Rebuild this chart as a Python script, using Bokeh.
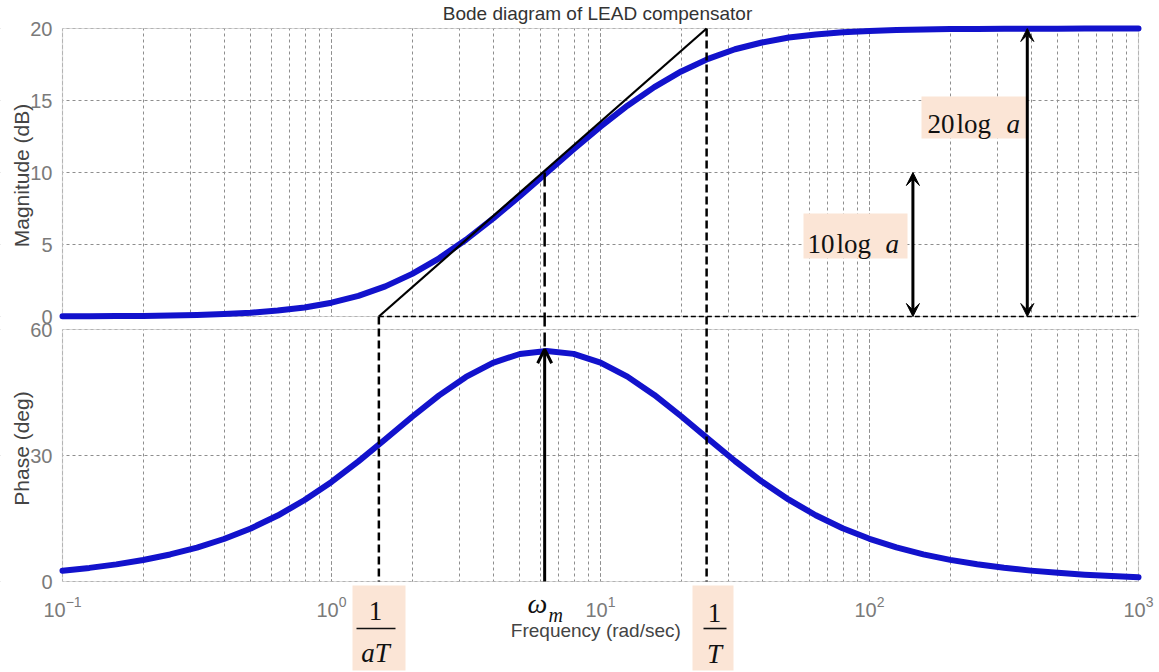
from bokeh.plotting import figure
from bokeh.models import (Range1d, FixedTicker, BoxAnnotation, Label, Arrow,
                          VeeHead, OpenHead)
from bokeh.embed import file_html
from bokeh.resources import INLINE

# ---------------- data ----------------
freq = [0.1, 0.1259, 0.1585, 0.1995, 0.2512, 0.3162, 0.3981, 0.5012, 0.631, 0.7943,
        1.0, 1.259, 1.585, 1.995, 2.512, 3.162, 3.981, 5.012, 6.31, 7.943,
        10.0, 12.59, 15.85, 19.95, 25.12, 31.62, 39.81, 50.12, 63.1, 79.43,
        100.0, 125.9, 158.5, 199.5, 251.2, 316.2, 398.1, 501.2, 631.0, 794.3, 1000.0]
mag_db = [0.01, 0.02, 0.03, 0.04, 0.07, 0.11, 0.17, 0.26, 0.41, 0.63,
          0.96, 1.43, 2.09, 2.96, 4.04, 5.33, 6.79, 8.36, 9.98, 11.61,
          13.18, 14.64, 15.93, 17.02, 17.89, 18.56, 19.03, 19.37, 19.59, 19.74,
          19.83, 19.89, 19.93, 19.96, 19.97, 19.98, 19.99, 19.99, 20.0, 20.0, 20.0]
phase_deg = [2.58, 3.24, 4.08, 5.13, 6.44, 8.08, 10.12, 12.63, 15.70, 19.40,
             23.70, 28.59, 33.87, 39.23, 44.31, 48.70, 52.07, 54.17, 54.90, 54.20,
             52.12, 48.78, 44.41, 39.35, 33.98, 28.69, 23.79, 19.48, 15.77, 12.69,
             10.16, 8.12, 6.47, 5.15, 4.09, 3.26, 2.59, 2.06, 1.63, 1.30, 1.03]

corner_low = 1.5      # 1/aT
corner_high = 24.8    # 1/T
omega_m = 6.2
mag_at_wm = 10.0
phase_max = 55.3
gain_full = 20.0      # 20 log a
gain_half = 10.0      # 10 log a
arrow_full_x = 386.0
arrow_half_x = 145.0

mag_ticks = [0, 5, 10, 15, 20]
phase_ticks = [0, 30, 60]
x_lo, x_hi = 0.1, 1000.0
mag_lo_v, mag_hi_v = 0.0, 20.0
ph_lo_v, ph_hi_v = 0.0, 60.0

# ---------------- layout constants (pixels) ----------------
W, H = 1159, 672
FL, FR, FT, FB = 62, 1138, 28, 581      # panel area edges
MAG0_PX = 316                           # 0 dB row
PH60_PX = 329                           # 60 deg row
DEC = (FR - FL) / 4.0                   # px per decade
px_per_db = (MAG0_PX - FT) / (mag_hi_v - mag_lo_v)
px_per_deg = (FB - PH60_PX) / (ph_hi_v - ph_lo_v)

x_start = 10 ** (-1 - FL / DEC)
x_end = 10 ** (3 + (W - FR) / DEC)
y_top = mag_hi_v + FT / px_per_db
y_bot = mag_hi_v - (H - FT) / px_per_db
ph_top = ph_lo_v + FB / px_per_deg
ph_bot = ph_lo_v - (H - FB) / px_per_deg


def ph_to_mag(p):
    px = FB - (p - ph_lo_v) * px_per_deg
    return mag_hi_v - (px - FT) / px_per_db


def mag_to_ph(m):
    px = FT + (mag_hi_v - m) * px_per_db
    return ph_lo_v + (FB - px) / px_per_deg


def sx(px):
    return px


def sy(py):
    return H - py


BLUE = "#1212cc"
GRID = "#8e8e8e"
BORDER = "#858585"
PEACH = "#fbe5d6"
TICK_C = "#7a7a7a"
SERIF = "Liberation Serif"
INK = "#111111"

p = figure(width=W, height=H, x_axis_type="log", x_range=Range1d(x_start, x_end),
           y_range=Range1d(y_bot, y_top), output_backend="svg",
           toolbar_location=None, min_border=0, min_border_left=0, min_border_right=0,
           min_border_top=0, min_border_bottom=0)
p.extra_y_ranges = {"phase": Range1d(ph_bot, ph_top)}
p.outline_line_color = None
p.background_fill_color = "white"
p.border_fill_color = "white"

# left axis: magnitude ticks + phase ticks mapped onto the shared frame
ph_tick_pos = [ph_to_mag(v) for v in phase_ticks]
all_ticks = [float(v) for v in mag_ticks] + ph_tick_pos
overrides = {float(v): str(v) for v in mag_ticks}
for v, pos in zip(phase_ticks, ph_tick_pos):
    overrides[pos] = str(v)
yax = p.yaxis[0]
yax.fixed_location = x_lo
yax.ticker = FixedTicker(ticks=all_ticks, minor_ticks=[])
yax.major_label_overrides = overrides
yax.axis_line_color = None
yax.major_tick_line_color = None
yax.minor_tick_line_color = None
yax.major_label_text_font = "Liberation Sans"
yax.major_label_text_font_size = "20px"
yax.major_label_text_color = TICK_C
yax.major_label_standoff = 4
p.ygrid[0].ticker = FixedTicker(ticks=all_ticks, minor_ticks=[])

xax = p.xaxis[0]
xax.fixed_location = ph_to_mag(ph_lo_v)
xax.bounds = (x_lo, x_hi)
xax.axis_line_color = None
xax.major_tick_line_color = None
xax.minor_tick_line_color = None
xax.major_label_text_font = "Liberation Sans"
xax.major_label_text_font_size = "20px"
xax.major_label_text_color = TICK_C
xax.major_label_standoff = 8

for g in (p.xgrid[0], p.ygrid[0]):
    g.grid_line_color = GRID
    g.grid_line_dash = "3 3"
    g.grid_line_width = 1
p.xgrid[0].minor_grid_line_color = GRID
p.xgrid[0].minor_grid_line_dash = "3 3"
p.xgrid[0].minor_grid_line_width = 1

# white masks outside the two panels (hide grid lines there)
masks = [dict(bottom=mag_hi_v), dict(top=ph_to_mag(ph_lo_v)),
         dict(bottom=ph_to_mag(ph_hi_v), top=mag_lo_v),
         dict(right=x_lo), dict(left=x_hi)]
for m in masks:
    p.add_layout(BoxAnnotation(fill_color="white", fill_alpha=1.0, line_color=None,
                               level="underlay", **m))
# panel borders
p.add_layout(BoxAnnotation(left=x_lo, right=x_hi, bottom=mag_lo_v, top=mag_hi_v,
                           fill_color=None, line_color=BORDER, line_width=1.2,
                           level="underlay"))
p.add_layout(BoxAnnotation(left=x_lo, right=x_hi, bottom=ph_to_mag(ph_lo_v),
                           top=ph_to_mag(ph_hi_v), fill_color=None, line_color=BORDER,
                           line_width=1.2, level="underlay"))


def sbox(l, r, t, b, color):
    p.add_layout(BoxAnnotation(left=sx(l), right=sx(r), top=sy(t), bottom=sy(b),
                               left_units="screen", right_units="screen",
                               top_units="screen", bottom_units="screen",
                               fill_color=color, fill_alpha=1.0, line_color=None))


def lab(text, px, py, size, font="Liberation Sans", style="normal", color=INK,
        align="center", baseline="middle", angle=0.0):
    p.add_layout(Label(x=sx(px), y=sy(py), x_units="screen", y_units="screen", text=text,
                       text_font=font, text_font_size=f"{size}px", text_font_style=style,
                       text_color=color, text_align=align, text_baseline=baseline,
                       angle=angle))


# label boxes inside the magnitude panel
sbox(921, 1027, 96, 138, PEACH)
sbox(803, 907, 213, 258, PEACH)

# curves
p.line(freq, mag_db, line_width=6, color=BLUE, line_join="round", line_cap="round")
p.line(freq, phase_deg, line_width=6, color=BLUE, line_join="round", line_cap="round",
       y_range_name="phase")

# asymptote and reference lines
p.line([corner_low, corner_high], [mag_lo_v, gain_full], color="black", line_width=2.2)
p.line([corner_low, x_hi], [mag_lo_v, mag_lo_v], color="black", line_width=1.5,
       line_dash="5 3")
p.segment(x0=[corner_low], y0=[mag_to_ph(mag_lo_v)], x1=[corner_low], y1=[ph_lo_v],
          y_range_name="phase", color="black", line_width=2.5, line_dash="8 4")
p.segment(x0=[corner_high], y0=[mag_to_ph(gain_full)], x1=[corner_high], y1=[ph_lo_v],
          y_range_name="phase", color="black", line_width=2.5, line_dash="8 4")
p.segment(x0=[omega_m], y0=[mag_to_ph(mag_at_wm)], x1=[omega_m], y1=[phase_max],
          y_range_name="phase", color="black", line_width=2.5, line_dash="14 6")

# arrows
p.add_layout(Arrow(start=VeeHead(size=13, fill_color="black", line_color="black"),
                   end=VeeHead(size=13, fill_color="black", line_color="black"),
                   x_start=arrow_full_x, y_start=mag_lo_v, x_end=arrow_full_x,
                   y_end=gain_full, line_width=3, line_color="black"))
p.add_layout(Arrow(start=VeeHead(size=13, fill_color="black", line_color="black"),
                   end=VeeHead(size=13, fill_color="black", line_color="black"),
                   x_start=arrow_half_x, y_start=mag_lo_v, x_end=arrow_half_x,
                   y_end=gain_half, line_width=3, line_color="black"))
p.add_layout(Arrow(end=OpenHead(size=14, line_width=3, line_color="black"),
                   x_start=omega_m, y_start=ph_lo_v, x_end=omega_m, y_end=phase_max,
                   y_range_name="phase", line_width=3, line_color="black"))

# titles and axis labels
lab("Bode diagram of LEAD compensator", 597, 13, 19, color="#333333")
lab("Magnitude (dB)", 21, 175, 21, color="#444444", angle=1.5708)
lab("Phase (deg)", 21, 448, 21, color="#444444", angle=1.5708)
lab("Frequency  (rad/sec)", 598, 630, 19, color="#444444")

# 20 log a / 10 log a
lab("20", 927, 123, 27, font=SERIF, align="left", baseline="alphabetic")
lab("log", 956, 123, 27, font=SERIF, align="left", baseline="alphabetic")
lab("a", 1006, 123, 27, font=SERIF, style="italic", align="left", baseline="alphabetic")
lab("10", 807, 243, 27, font=SERIF, align="left", baseline="alphabetic")
lab("log", 836, 243, 27, font=SERIF, align="left", baseline="alphabetic")
lab("a", 885, 243, 27, font=SERIF, style="italic", align="left", baseline="alphabetic")

# fraction labels below the axis
sbox(352, 405, 585, 670, PEACH)
sbox(692, 733, 585, 670, PEACH)
lab("1", 375, 610, 27, font=SERIF)
sbox(356, 395, 627.2, 628.8, INK)
lab("aT", 375, 652, 27, font=SERIF, style="italic")
lab("1", 714, 612, 27, font=SERIF)
sbox(703, 726, 627.2, 628.8, INK)
lab("T", 714, 653, 27, font=SERIF, style="italic")
lab("\u03c9", 537, 603, 28, font=SERIF, style="italic")
lab("m", 548, 614, 20, font=SERIF, style="italic", align="left")

open("out.html", "w").write(file_html(p, INLINE))
